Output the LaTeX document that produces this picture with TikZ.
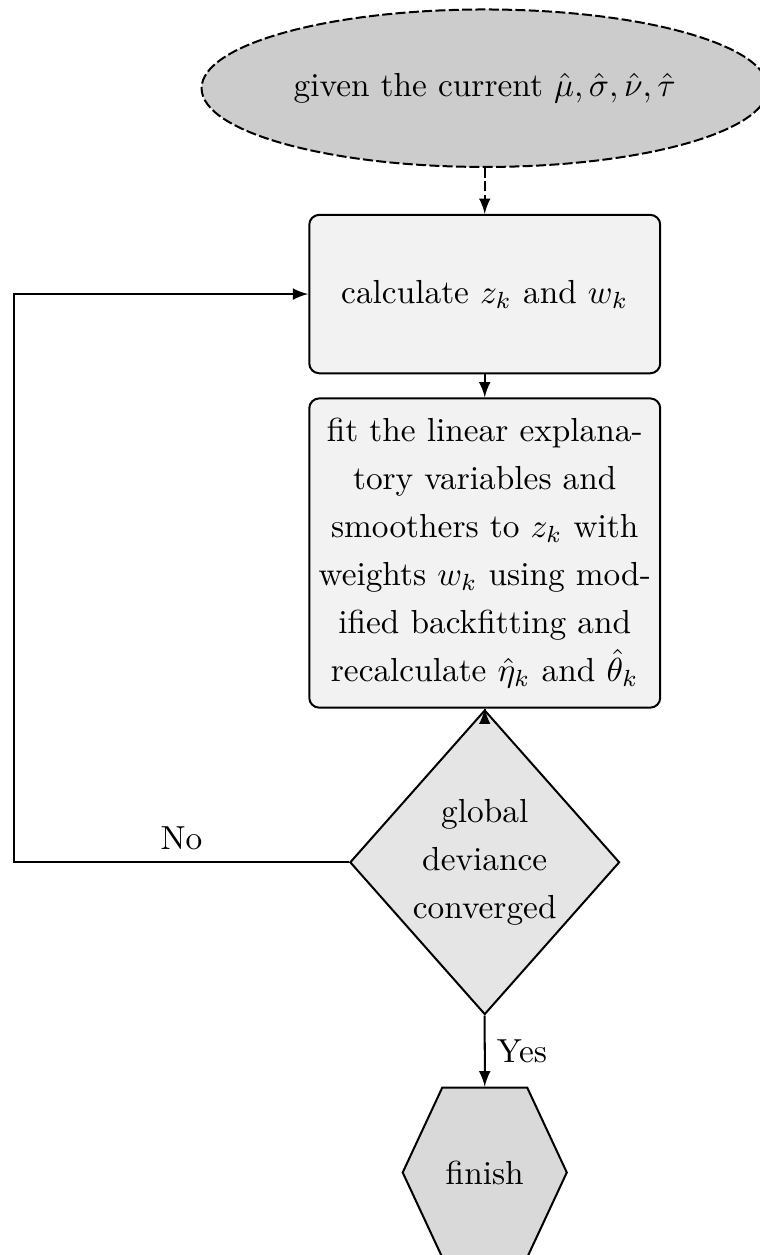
\documentclass[tikz,border=0pt]{standalone}
\usepackage{amssymb}
\usepackage{amsmath}
\usepackage{tikz}
\usetikzlibrary{shapes.geometric,shapes.symbols}
\tikzset{
	every node/.style={font=\fontsize{10}{14.4}\selectfont},
	terminal/.style={ellipse, draw, dash pattern=on 3pt off 1pt, fill=gray!40, minimum width=5.97cm, minimum height=1.66cm, inner sep=0pt},
	process/.style={rectangle, rounded corners=3pt, draw, fill=gray!10, minimum width=3.7cm, inner sep=0pt, align=center},
	decision/.style={diamond, draw, fill=gray!20, minimum width=2.72cm, minimum height=3.21cm, inner sep=0pt, align=center},
	finish/.style={signal, signal to=west and east, signal pointer angle=130, draw, fill=gray!30, minimum width=1.73cm, minimum height=1.79cm, inner sep=0pt},
	flow/.style={semithick, -latex}
}

\begin{document}
\begin{tikzpicture}[semithick]
	\useasboundingbox (0, 0) rectangle (8.01, -13.23);
	\clip (0, 0) rectangle (8.01, -13.23);
	\node [terminal] (0) at (5.11, -0.93) {given the current $\hat{\mu}, \hat{\sigma}, \hat{\nu}, \hat{\tau}$};
	\node [process, minimum height=1.67cm] (1) at (5.11, -3.10) {calculate $z_k$ and $w_k$};
	\node [process, minimum height=3.26cm] (2) at (5.11, -5.83) {fit the linear explana-\\tory variables and\\smoothers to $z_k$ with\\weights $w_k$ using mod-\\ified backfitting and\\recalculate $\hat{\eta}_k$ and $\hat{\theta}_k$};
	\node [decision] (3) at (5.11, -9.09) {global\\deviance\\converged};
	\node [finish] (4) at (5.11, -12.36) {finish};
	\node (5) at (0.15, -9.09) {};
	% edges
	\draw [flow, dash pattern=on 3pt off 1pt] (0) to (1);
	\draw [flow] (1) to (2);
	\draw [flow] (3) to (2);
	\draw [flow] (3.west) -- (5.center) node [midway, above] {No} |- (1.west);
	\draw [flow] (3) to node [right] {Yes} (4);
\end{tikzpicture}
\end{document}
